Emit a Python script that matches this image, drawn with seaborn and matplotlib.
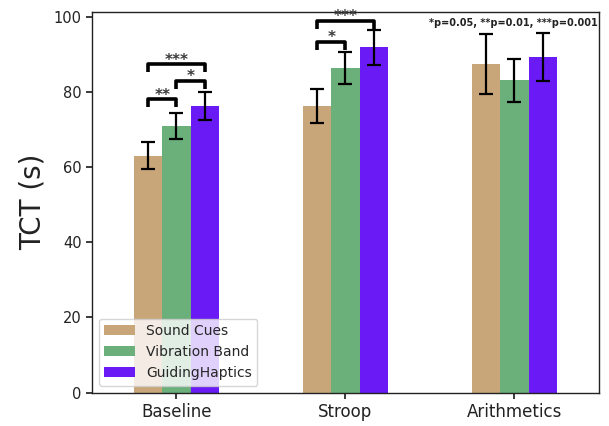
import matplotlib
matplotlib.use("Agg")
import matplotlib.pyplot as plt
import seaborn as sns
import pandas as pd

conditions = ["Baseline", "Stroop", "Arithmetics"]
methods = ["Sound Cues", "Vibration Band", "GuidingHaptics"]
tct_sound = [63.0, 76.3, 87.5]
tct_vibration = [70.9, 86.4, 83.1]
tct_guiding = [76.3, 91.9, 89.3]
err_sound = [3.6, 4.6, 8.0]
err_vibration = [3.5, 4.3, 5.7]
err_guiding = [3.8, 4.6, 6.3]
colors = ["#C9A67A", "#6BAF7B", "#6A1BF5"]

# significance brackets: (condition index, method a, method b, bracket height, label)
brackets = [
    (0, 0, 1, 78.1, "**"),
    (0, 1, 2, 83.0, "*"),
    (0, 0, 2, 87.4, "***"),
    (1, 0, 1, 93.4, "*"),
    (1, 0, 2, 99.0, "***"),
]

sns.set_theme(style="ticks")
plt.rcParams["font.family"] = ["DejaVu Sans"]

rows = []
for vals, errs, m in [(tct_sound, err_sound, methods[0]),
                      (tct_vibration, err_vibration, methods[1]),
                      (tct_guiding, err_guiding, methods[2])]:
    for c, v, e in zip(conditions, vals, errs):
        rows.append({"condition": c, "method": m, "tct": v, "err": e})
df = pd.DataFrame(rows)

fig = plt.figure(figsize=(6.09, 4.26), dpi=100)
ax = fig.add_axes([0.151, 0.0786, 0.8325, 0.8932])

sns.barplot(data=df, x="condition", y="tct", hue="method", hue_order=methods,
            order=conditions, palette=colors, width=0.5, errorbar=None,
            saturation=1, linewidth=0, ax=ax)

# bar centers per (method, condition)
centers = {}
for mi, cont in enumerate(ax.containers):
    for ci, bar in enumerate(cont):
        centers[(mi, ci)] = bar.get_x() + bar.get_width() / 2

all_vals = [tct_sound, tct_vibration, tct_guiding]
for mi, errs in enumerate([err_sound, err_vibration, err_guiding]):
    xs = [centers[(mi, ci)] for ci in range(3)]
    ax.errorbar(xs, all_vals[mi], yerr=errs, fmt="none", ecolor="black",
                elinewidth=1.6, capsize=5, capthick=1.6, zorder=5)

drop = 2.2
for ci, a, b, h, lab in brackets:
    xa, xb = centers[(a, ci)], centers[(b, ci)]
    ax.plot([xa, xa, xb, xb], [h - drop, h, h, h - drop], color="black",
            lw=2.6, solid_capstyle="butt", zorder=6)
    ax.text((xa + xb) / 2, h - 0.9, lab, ha="center", va="bottom",
            fontsize=11, fontweight="bold", color="#3a3a3a", zorder=7)

ax.text(0.997, 0.985, "*p=0.05, **p=0.01, ***p=0.001", transform=ax.transAxes,
        ha="right", va="top", fontsize=7, fontweight="bold", color="#222222")

ax.set_ylim(0, 101.3)
ax.set_xlim(-0.5, 2.5)
ax.set_yticks([0, 20, 40, 60, 80, 100])
ax.set_xlabel("")
ax.set_ylabel("TCT (s)", fontsize=20, color="#222222", labelpad=5)
ax.tick_params(axis="both", colors="#222222", length=4)
ax.tick_params(axis="x", labelsize=12)
ax.tick_params(axis="y", labelsize=10.5)
for s in ax.spines.values():
    s.set_color("#222222")
    s.set_linewidth(1.0)

ax.legend(loc="lower left", fontsize=10, frameon=True, framealpha=0.8,
          borderpad=0.4, handlelength=2.2, title=None)

fig.savefig("out.png", dpi=100)
